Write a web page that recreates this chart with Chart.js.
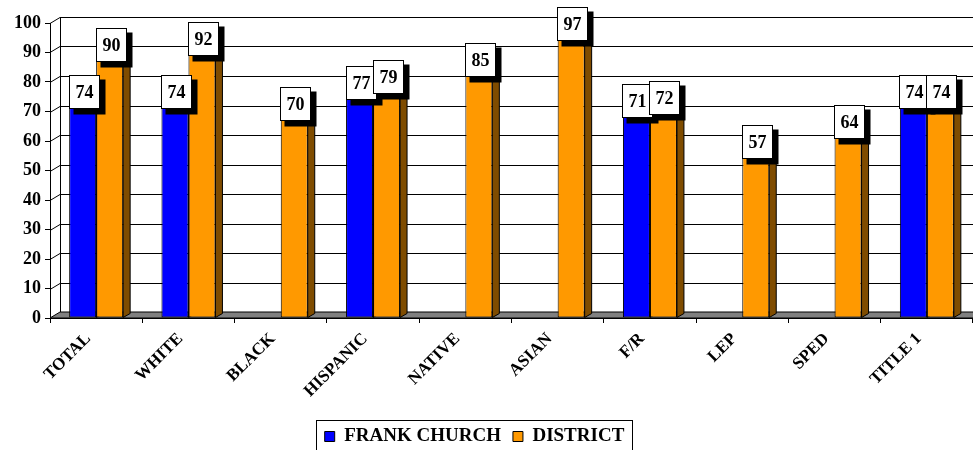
<!DOCTYPE html>
<html><head><meta charset="utf-8">
<script src="https://cdn.jsdelivr.net/npm/chart.js@4.4.1/dist/chart.umd.min.js"></script>
<style>html,body{margin:0;padding:0;background:#fff}canvas{display:block}</style>
</head><body>
<canvas id="c" width="973" height="450"></canvas>
<script>
// ---- data ----
const categories = ['TOTAL','WHITE','BLACK','HISPANIC','NATIVE','ASIAN','F/R','LEP','SPED','TITLE 1'];
const frankChurch = [74, 74, null, 77, null, null, 71, null, null, 74];
const district    = [90, 92, 70, 79, 85, 97, 72, 57, 64, 74];
const seriesNames = ['FRANK CHURCH', 'DISTRICT'];
const yMin = 0, yMax = 100, yStep = 10;

// ---- style ----
const FONT = "'Liberation Serif','Times New Roman',serif";
const DX = 10, DY = -6;     // wall/floor depth offset
const BDX = 7, BDY = -4;    // bar depth offset
const PLOT_BOTTOM = 318;
const colors = {
  blue: '#0000FF', blueSide: '#00007F', blueTop: '#4D4DFF',
  orange: '#FF9900', orangeSide: '#7F4C00', orangeTop: '#FFB84D',
  floor: '#808080'
};

const wall3d = {
  id: 'wall3d',
  beforeDatasetsDraw(chart) {
    const {ctx, chartArea: {left, right}, scales: {y}} = chart;
    ctx.save();
    ctx.strokeStyle = '#000';
    ctx.lineWidth = 1;
    const y0 = y.getPixelForValue(yMin);
    const yT = y.getPixelForValue(yMax);
    // floor
    ctx.beginPath();
    ctx.moveTo(left, y0); ctx.lineTo(right + DX, y0);
    ctx.lineTo(right + DX + DX, y0 + DY); ctx.lineTo(left + DX, y0 + DY);
    ctx.closePath();
    ctx.fillStyle = colors.floor; ctx.fill(); ctx.stroke();
    // back wall gridlines + side wall diagonals
    for (let v = yMin + yStep; v <= yMax; v += yStep) {
      const yf = Math.round(y.getPixelForValue(v)) + 0.5;
      ctx.beginPath();
      ctx.moveTo(left, yf);
      ctx.lineTo(left + DX, yf + DY);
      ctx.lineTo(right + DX, yf + DY);
      ctx.stroke();
    }
    ctx.beginPath();
    ctx.moveTo(left + DX + 0.5, y0 + DY); ctx.lineTo(left + DX + 0.5, yT + DY + 0.5);
    ctx.stroke();
    // bar side / top faces
    chart.data.datasets.forEach((ds, di) => {
      const meta = chart.getDatasetMeta(di);
      meta.data.forEach((el, i) => {
        if (ds.data[i] == null) return;
        const xl = el.x - el.width / 2, xr = el.x + el.width / 2;
        const top = el.y, base = el.base;
        ctx.beginPath();
        ctx.moveTo(xr, top); ctx.lineTo(xr + BDX, top + BDY);
        ctx.lineTo(xr + BDX, base + BDY); ctx.lineTo(xr, base); ctx.closePath();
        ctx.fillStyle = ds.sideColor; ctx.fill(); ctx.stroke();
        ctx.beginPath();
        ctx.moveTo(xl, top); ctx.lineTo(xl + BDX, top + BDY);
        ctx.lineTo(xr + BDX, top + BDY); ctx.lineTo(xr, top); ctx.closePath();
        ctx.fillStyle = ds.topColor; ctx.fill(); ctx.stroke();
      });
    });
    ctx.restore();
  }
};

const valueBoxes = {
  id: 'valueBoxes',
  afterDatasetsDraw(chart) {
    const {ctx} = chart;
    ctx.save();
    ctx.font = 'bold 18px ' + FONT;
    ctx.textAlign = 'center';
    ctx.textBaseline = 'middle';
    const n = chart.data.labels.length;
    for (let i = 0; i < n; i++) {
      chart.data.datasets.forEach((ds, di) => {
        const v = ds.data[i];
        if (v == null) return;
        const el = chart.getDatasetMeta(di).data[i];
        const w = 30, h = 33;
        const bx = Math.round(el.x + 1 - w / 2) + 0.5;
        const by = Math.round(el.y - 8 - h / 2) + 0.5;
        ctx.fillStyle = '#000';
        ctx.fillRect(bx + 4, by + 4, w + 2, h + 2);
        ctx.fillStyle = '#fff';
        ctx.fillRect(bx, by, w, h);
        ctx.strokeStyle = '#000'; ctx.lineWidth = 1;
        ctx.strokeRect(bx, by, w, h);
        ctx.fillStyle = '#000';
        ctx.fillText(String(v), bx + w / 2, by + h / 2 + 1);
      });
    }
    ctx.restore();
  }
};

const legendFrame = {
  id: 'legendFrame',
  afterLayout(chart) {
    const lg = chart.legend;
    if (!lg) return;
    lg.left -= 12; lg.right -= 12;
    const shift = 415 - lg.top;
    lg.top += shift; lg.bottom += shift;
  },
  afterDraw(chart) {
    const lg = chart.legend;
    if (!lg || !lg.legendHitBoxes || !lg.legendHitBoxes.length) return;
    const hb = lg.legendHitBoxes;
    const l = Math.round(hb[0].left) - 8.5;
    const last = hb[hb.length - 1];
    const r = Math.round(last.left + last.width) + 8.5;
    const {ctx} = chart;
    ctx.save();
    ctx.strokeStyle = '#000'; ctx.lineWidth = 1;
    ctx.strokeRect(l, 420.5, r - l, 40);
    ctx.restore();
  }
};

new Chart(document.getElementById('c'), {
  type: 'bar',
  data: {
    labels: categories,
    datasets: [
      { label: seriesNames[0], data: frankChurch, backgroundColor: colors.blue,
        borderColor: '#000', borderWidth: 1, borderSkipped: false,
        sideColor: colors.blueSide, topColor: colors.blueTop },
      { label: seriesNames[1], data: district, backgroundColor: colors.orange,
        borderColor: '#000', borderWidth: 1, borderSkipped: false,
        sideColor: colors.orangeSide, topColor: colors.orangeTop }
    ]
  },
  options: {
    responsive: false,
    animation: false,
    devicePixelRatio: 1,
    layout: { padding: { top: 23, left: 0, right: 0, bottom: 0 } },
    datasets: { bar: { categoryPercentage: 0.585, barPercentage: 1 } },
    plugins: {
      tooltip: { enabled: false },
      legend: {
        position: 'bottom',
        labels: {
          boxWidth: 10, boxHeight: 10, padding: 12, color: '#000',
          font: { family: FONT, size: 19, weight: 'bold' }
        }
      }
    },
    scales: {
      x: {
        grid: { display: true, drawOnChartArea: false, drawTicks: true, tickLength: 5, color: '#000', offset: true },
        border: { display: true, color: '#000', width: 1 },
        ticks: { color: '#000', autoSkip: false, minRotation: 45, maxRotation: 45, padding: 6, labelOffset: -8,
                 font: { family: FONT, size: 17, weight: 'bold' } },
        afterFit(scale) {
          const lh = scale.chart.legend ? scale.chart.legend.height : 39;
          scale.height = 450 - PLOT_BOTTOM - lh;
        }
      },
      y: {
        min: yMin, max: yMax,
        grid: { display: true, drawOnChartArea: false, drawTicks: true, tickLength: 5, color: '#000' },
        border: { display: true, color: '#000', width: 1 },
        ticks: { stepSize: yStep, color: '#000', padding: 4,
                 font: { family: FONT, size: 18, weight: 'bold' } },
        afterFit(scale) { scale.width = 50; }
      }
    }
  },
  plugins: [wall3d, valueBoxes, legendFrame]
});
</script>
</body></html>
